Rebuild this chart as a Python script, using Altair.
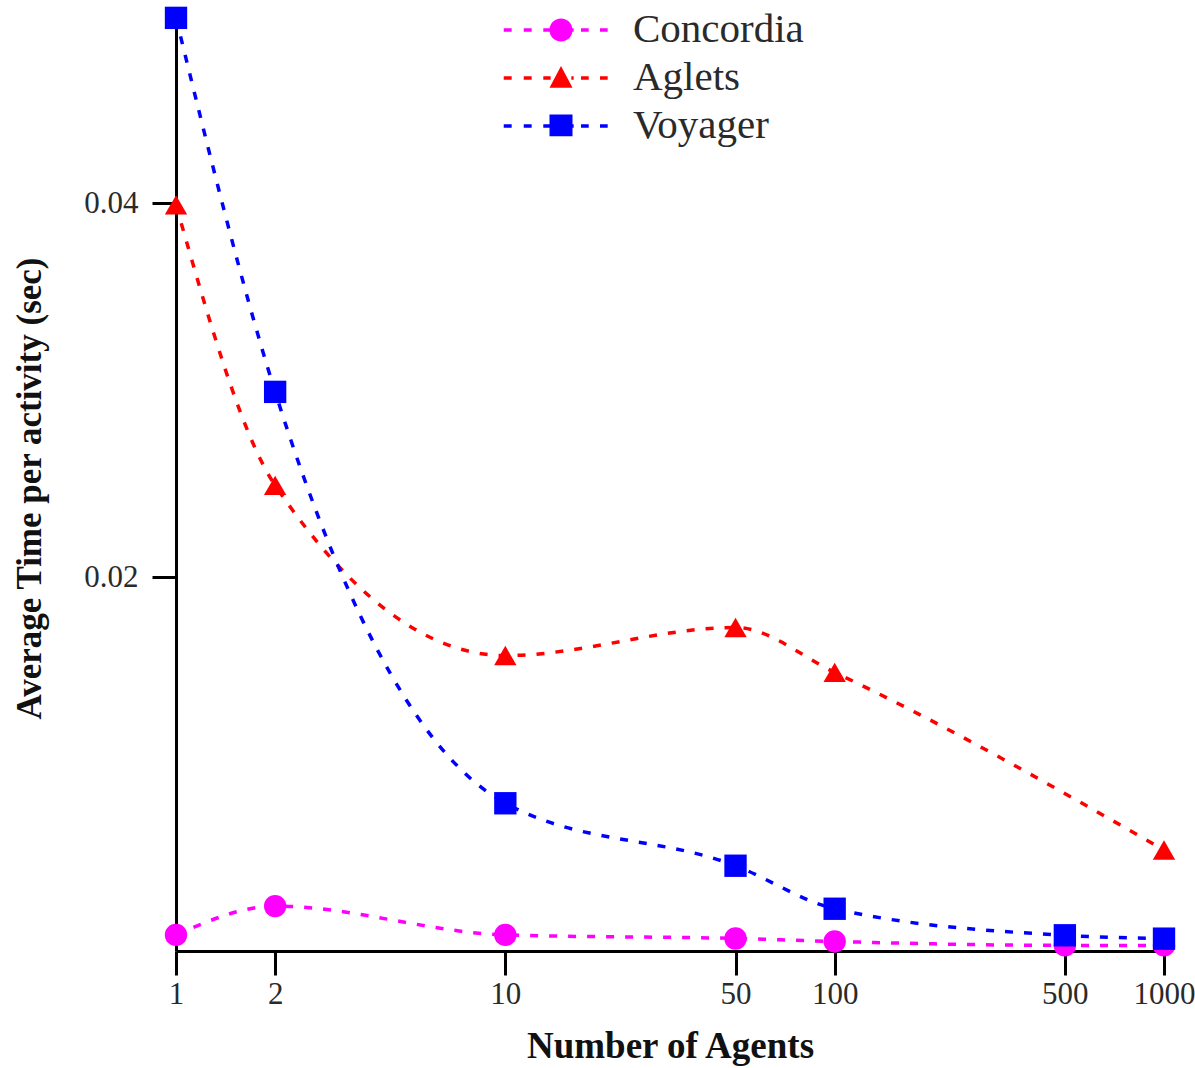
import altair as alt
import pandas as pd

# ---- data ----
agents = [1, 2, 10, 50, 100, 500, 1000]
series_names = ["Concordia", "Aglets", "Voyager"]
series_colors = ["#ff00ff", "#ff0000", "#0000ff"]
series_markers = ["circle", "triangle-up", "square"]
concordia = [0.00086, 0.0024, 0.00086, 0.00067, 0.00051, 0.0003, 0.0003]
aglets = [0.0399, 0.0249, 0.0158, 0.0173, 0.0149, None, 0.0054]
voyager = [0.0499, 0.0299, 0.0079, 0.00456, 0.00226, 0.00084, 0.00066]
x_ticks = [1, 2, 10, 50, 100, 500, 1000]
y_ticks = [0.02, 0.04]

rows = []
for name, vals in zip(series_names, [concordia, aglets, voyager]):
    for a, v in zip(agents, vals):
        if v is not None:
            rows.append({"agents": a, "time": v, "series": name})
df = pd.DataFrame(rows)

FONT = "Liberation Serif"
TXT = "#2a2a2a"

# legend symbols: dashed line segment + marker (unit coordinates)
dashes = ("M-4.98,-0.15H-4.29V0.15H-4.98Z M-3.24,-0.15H-2.55V0.15H-3.24Z "
          "M-1.54,-0.15H-0.9V0.15H-1.54Z M0.9,-0.15H1.1V0.15H0.9Z "
          "M1.74,-0.15H2.41V0.15H1.74Z M3.39,-0.15H4.06V0.15H3.39Z ")
legend_paths = [
    dashes + "M1,0A1,1,0,1,1,-1,0A1,1,0,1,1,1,0Z",
    dashes + "M0,-1.05L1,0.85L-1,0.85Z",
    dashes + "M-1,-1H1V0.9H-1Z",
]

color_scale = alt.Scale(domain=series_names, range=series_colors)

x_enc = alt.X(
    "agents:Q",
    scale=alt.Scale(type="log", domain=[1, 1000], nice=False),
    axis=alt.Axis(
        values=x_ticks, format="d", title="Number of Agents", grid=False,
        tickSize=24, tickWidth=3, tickColor="black", domainWidth=3, domainColor="black",
        labelFont=FONT, labelFontSize=31, labelColor=TXT, labelPadding=28,
        labelBaseline="alphabetic", labelFlush=False, labelOverlap=False,
        titleFont=FONT, titleFontSize=37, titleFontWeight="bold", titleColor="#111",
        titleY=106, titleBaseline="alphabetic",
    ),
)
y_enc = alt.Y(
    "time:Q",
    scale=alt.Scale(domain=[0, 0.05], nice=False, zero=True),
    axis=alt.Axis(
        values=y_ticks, format=".2f", title="Average Time per activity (sec)", grid=False,
        tickSize=24, tickWidth=3, tickColor="black", domainWidth=3, domainColor="black",
        labelFont=FONT, labelFontSize=31, labelColor=TXT, labelPadding=14,
        labelBaseline="middle", labelFlush=False,
        titleFont=FONT, titleFontSize=35, titleFontWeight="bold", titleColor="#111",
        titleX=-136, titleY=472, titleAngle=270, titleAlign="center", titleBaseline="alphabetic",
    ),
)

legend_props = dict(
    title=None, orient="none", legendX=364.5, legendY=-6.5, padding=0,
    symbolSize=529, symbolStrokeWidth=0, symbolOpacity=1,
    labelOffset=51.5, rowPadding=6, labelFont=FONT, labelFontSize=41,
    labelColor=TXT, labelLimit=600,
)
# legend-only layer (draws no marks), first so its legend settings win the merge
legend_layer = alt.Chart(df).transform_filter("false").mark_point(
    filled=True, opacity=1
).encode(
    x=x_enc, y=y_enc,
    color=alt.Color("series:N", scale=color_scale, legend=alt.Legend(**legend_props)),
    shape=alt.Shape("series:N",
                    scale=alt.Scale(domain=series_names, range=legend_paths),
                    legend=alt.Legend(**legend_props)),
)

lines = alt.Chart(df).mark_line(
    interpolate="monotone", strokeDash=[8, 11], strokeWidth=3.5
).encode(
    x=x_enc, y=y_enc,
    color=alt.Color("series:N", scale=color_scale, legend=None),
    detail="series:N",
)

point_layers = []
for name, marker in zip(series_names, series_markers):
    point_layers.append(
        alt.Chart(df).transform_filter(f"datum.series === '{name}'")
        .mark_point(filled=True, size=500, opacity=1, shape=marker)
        .encode(x=x_enc, y=y_enc,
                color=alt.Color("series:N", scale=color_scale, legend=None))
    )

chart = alt.layer(legend_layer, lines, *point_layers).properties(
    width=988, height=935,
    autosize=alt.AutoSizeParams(type="none"),
    padding={"left": 176, "top": 16, "right": 31, "bottom": 117},
    background="white",
).configure_view(stroke=None)

chart.save("out.html", embed_options={"renderer": "svg", "actions": False})
